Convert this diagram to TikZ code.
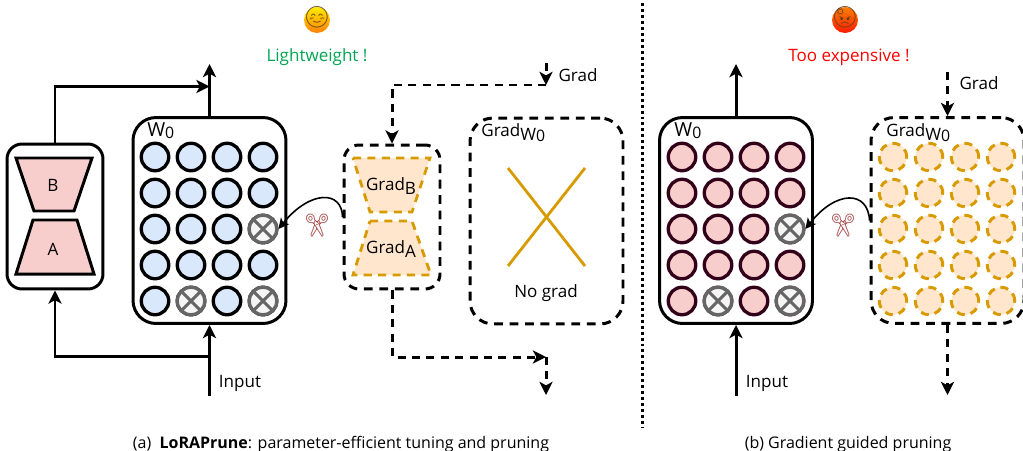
\documentclass[tikz,border=0pt]{standalone}
\usepackage{xcolor}
\usepackage{fontspec}
\setmainfont{Open Sans}
\newfontfamily\emojifont{Noto Emoji}
\usetikzlibrary{arrows.meta}
\definecolor{weightblue}{HTML}{DAE8FC}
\definecolor{weightred}{HTML}{F8CECC}
\definecolor{darkplum}{HTML}{33001A}
\definecolor{gradfill}{HTML}{FFE6CC}
\definecolor{gradline}{HTML}{D79B00}
\definecolor{cutline}{HTML}{666666}
\definecolor{cutfill}{HTML}{F5F5F5}
\definecolor{okgreen}{HTML}{00A651}
\newcommand{\wzero}{W\raisebox{-0.2ex}{\small 0}}
\newcommand{\emojitext}[1]{\makebox[0pt]{\raisebox{-0.42ex}[0pt][0pt]{#1}}}
\tikzset{
  label/.style={font=\fontsize{9.7}{11}\selectfont, inner sep=0pt},
  panel/.style={draw, rectangle, rounded corners=0.46cm, line width=1.7pt, minimum width=3.06cm, minimum height=4.12cm},
  dashpanel/.style={panel, dash pattern=on 5pt off 3.8pt},
  flow/.style={line width=1.7pt, -{Stealth[length=7.5pt,width=7.5pt,inset=2pt]}},
  gradflow/.style={flow, dash pattern=on 4.6pt off 3.6pt},
  weight/.style={draw, circle, line width=1.9pt, minimum size=0.55cm, inner sep=0pt},
  weighta/.style={weight, fill=weightblue},
  weightb/.style={weight, draw=darkplum, fill=weightred},
  gradw/.style={weight, line width=1.7pt, draw=gradline, fill=gradfill, dash pattern=on 4.6pt off 3.4pt},
  pruned/.style={weight, draw=cutline, fill=cutfill, path picture={
    \draw[cutline, line width=1.7pt] (path picture bounding box.north west) -- (path picture bounding box.south east);
    \draw[cutline, line width=1.7pt] (path picture bounding box.north east) -- (path picture bounding box.south west);}},
  trap/.style={draw, line width=1.7pt, fill=weightred, line join=miter},
  gradtrap/.style={draw=gradline, line width=1.6pt, fill=gradfill, dash pattern=on 4.6pt off 3.6pt},
  cutarrow/.style={line width=0.9pt, -{Stealth[length=6pt,width=6pt,inset=1.5pt]}},
  face/.style={circle, inner sep=0pt, minimum size=0.52cm, font=\emojifont\fontsize{12}{13}\selectfont},
  scissors/.style={inner sep=0pt, font=\emojifont\fontsize{13}{14}\selectfont, text=red!35!gray},
}
\begin{document}
\begin{tikzpicture}[x=0.02cm,y=-0.02cm]
  \useasboundingbox (0,0) rectangle (1023,450);

  % left panel (a)
  \node[draw, rectangle, rounded corners=0.3cm, line width=1.7pt, minimum width=1.92cm, minimum height=2.9cm] (lora) at (55,216.5) {};
  \draw[trap] (16,158) -- (92,158) -- (74,211) -- (34,211) -- cycle;
  \draw[trap] (33,220) -- (77,220) -- (94,274) -- (16,274) -- cycle;
  \node[label] (labelb) at (53,185) {B};
  \node[label] (labela) at (53,249) {A};

  \node[panel] (mainA) at (209.5,220.5) {};
  \node[label, anchor=west, font=\fontsize{11}{12}\selectfont] (wa) at (147,131) {\wzero};
  \foreach \yy [count=\r] in {157,193,229,265,301}
    \foreach \xx [count=\c] in {155,191,227,263}
      \node[weighta] (a\r\c) at (\xx,\yy) {};
  \node[pruned] (cuta) at (a34) {};
  \node[pruned] (cutb) at (a52) {};
  \node[pruned] (cutc) at (a54) {};

  \coordinate (topa) at (209.5,64);
  \coordinate (inputa) at (209.5,396);
  \coordinate (splita) at (209.5,356.5);
  \coordinate (mergea) at (209.5,86.5);
  \draw[flow] (mainA.north) -- (topa);
  \draw[flow] (inputa) -- (mainA.south);
  \draw[flow] (splita) -| (lora.south);
  \draw[flow] (lora.north) |- (mergea);
  \node[label] (inputlabela) at (240,383) {Input};

  % grads of (a)
  \node[dashpanel, rounded corners=0.3cm, minimum width=1.92cm, minimum height=2.88cm] (gradlora) at (392,217) {};
  \draw[gradtrap] (353,158) -- (430,158) -- (412,212) -- (370,212) -- cycle;
  \draw[gradtrap] (370,221) -- (412,221) -- (431,275) -- (353,275) -- cycle;
  \node[label] (labelgb) at (391,186) {Grad\raisebox{-0.4ex}{B}};
  \node[label] (labelga) at (391,249) {Grad\raisebox{-0.4ex}{A}};

  \node[dashpanel] (gradwa) at (546.5,221) {};
  \node[label, anchor=west] (gwa) at (481,133) {Grad\raisebox{-0.35ex}{\wzero}};
  \draw[gradline, line width=1.6pt] (508,168) coordinate (xa) -- (585,266) coordinate (xb);
  \draw[gradline, line width=1.6pt] (585,168) coordinate (xc) -- (508,266) coordinate (xd);
  \node[label] (nograd) at (546,293) {No grad};

  \coordinate (gradstarta) at (546,63);
  \coordinate (gradturna) at (546,85);
  \coordinate (gradendb) at (546,357);
  \coordinate (gradenda) at (546,395);
  \draw[gradflow] (gradstarta) -- (gradturna);
  \draw[gradflow] (gradturna) -| (gradlora.north);
  \draw[gradflow] (gradlora.south) |- (gradendb);
  \draw[gradflow] (gradendb) -- (gradenda);
  \node[label] (gradlabela) at (578,75) {Grad};

  \draw[cutarrow] (gradlora.west) .. controls (342,190) and (310,190) .. (cuta.east);
  \node[scissors] (scissa) at (317,226) {✂};

  \node[face, top color=yellow!85!orange, bottom color=orange, text=brown!50!black] (smile) at (317,20) {\emojitext{😊}};
  \node[label, text=okgreen] (lighta) at (317,57) {Lightweight !};

  % divider
  \coordinate (divtop) at (642,3);
  \coordinate (divbot) at (642,428);
  \draw[line width=1.7pt, dash pattern=on 1.7pt off 1.7pt] (divtop) -- (divbot);

  % right panel (b)
  \node[panel] (mainB) at (736,220.5) {};
  \node[label, anchor=west, font=\fontsize{11}{12}\selectfont] (wb) at (674,131) {\wzero};
  \foreach \yy [count=\r] in {157,193,229,265,301}
    \foreach \xx [count=\c] in {682,718,754,790}
      \node[weightb] (b\r\c) at (\xx,\yy) {};
  \node[pruned] (cutd) at (b34) {};
  \node[pruned] (cute) at (b52) {};
  \node[pruned] (cutf) at (b54) {};

  \coordinate (topb) at (736,64);
  \coordinate (inputb) at (736,396);
  \draw[flow] (mainB.north) -- (topb);
  \draw[flow] (inputb) -- (mainB.south);
  \node[label] (inputlabelb) at (767,383) {Input};

  \node[dashpanel] (gradwb) at (947.5,220.5) {};
  \node[label, anchor=west] (gwb) at (886,133) {Grad\raisebox{-0.35ex}{\wzero}};
  \foreach \yy [count=\r] in {157,193,229,265,301}
    \foreach \xx [count=\c] in {893,929,965,1001}
      \node[gradw] (g\r\c) at (\xx,\yy) {};

  \coordinate (gradstartb) at (947.5,72);
  \coordinate (gradendc) at (947.5,395);
  \draw[gradflow] (gradstartb) -- (gradwb.north);
  \draw[gradflow] (gradwb.south) -- (gradendc);
  \node[label] (gradlabelb) at (979,83) {Grad};

  \draw[cutarrow] (gradwb.west) .. controls (868,190) and (836,190) .. (cutd.east);
  \node[scissors] (scissb) at (843,226) {✂};

  \node[face, top color=orange, bottom color=red!80!orange, text=brown!50!black] (angry) at (845,20) {\emojitext{😡}};
  \node[label, text=red] (lightb) at (849,57) {Too expensive !};

  % captions
  \node[label, font=\fontsize{9.1}{11}\selectfont] (capa) at (341,444) {(a)\ \ \textbf{LoRAPrune}: parameter-efficient tuning and pruning};
  \node[label, font=\fontsize{9.1}{11}\selectfont] (capb) at (848,444) {(b) Gradient guided pruning};
\end{tikzpicture}
\end{document}
